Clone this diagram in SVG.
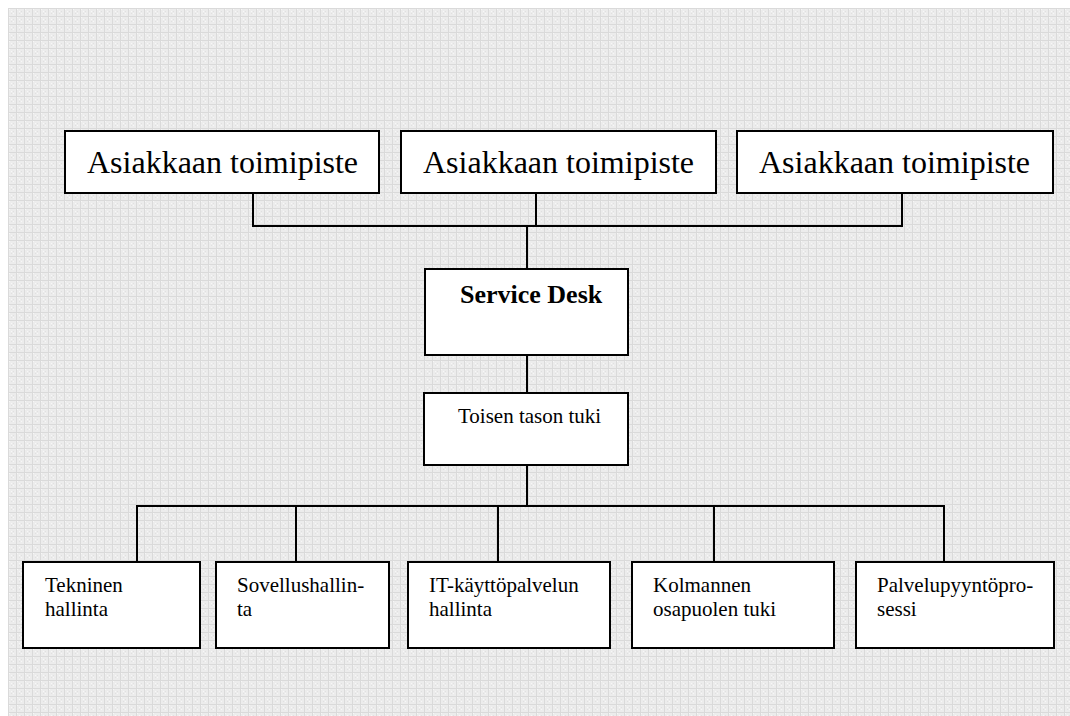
<svg xmlns="http://www.w3.org/2000/svg" width="1070" height="716" viewBox="0 0 1070 716">
  <defs>
    <!-- light grey grid texture used as page background -->
    <pattern id="grid" x="8" y="8" width="8" height="8" patternUnits="userSpaceOnUse">
      <rect width="8" height="8" fill="#ececec"/>
      <rect x="1" y="1" width="1" height="1" fill="#f7f7f7"/>
      <rect x="3" y="3" width="1" height="1" fill="#f7f7f7"/>
      <rect x="5" y="5" width="1" height="1" fill="#f7f7f7"/>
      <rect x="3" y="5" width="1" height="1" fill="#e0e0e0"/>
      <rect x="5" y="3" width="1" height="1" fill="#e0e0e0"/>
      <rect x="0" y="0" width="8" height="1" fill="#dadada"/>
      <rect x="0" y="0" width="1" height="8" fill="#dadada"/>
    </pattern>
    <style>
      .box { fill: #ffffff; stroke: #000000; stroke-width: 2; }
      .wire { fill: none; stroke: #000000; stroke-width: 2; }
      .t { font-family: "Liberation Serif", "Times New Roman", serif; fill: #000000; }
      .big { font-size: 32px; }
      .mid { font-size: 21px; }
      .bold { font-size: 26px; font-weight: bold; }
    </style>
  </defs>

  <rect x="0" y="0" width="1070" height="716" fill="#ffffff"/>
  <rect x="8" y="8" width="1062" height="708" fill="url(#grid)"/>

  <!-- connectors -->
  <g id="connectors">
    <path class="wire" d="M253 193 V226 H902 V193"/>
    <path class="wire" d="M536 193 V226"/>
    <path class="wire" d="M527 226 V269"/>
    <path class="wire" d="M527 355 V393"/>
    <path class="wire" d="M527 465 V506"/>
    <path class="wire" d="M137 562 V506 H944 V562"/>
    <path class="wire" d="M296 506 V562"/>
    <path class="wire" d="M498 506 V562"/>
    <path class="wire" d="M714 506 V562"/>
  </g>

  <!-- customer offices -->
  <g id="office1">
    <rect class="box" x="65" y="131" width="314" height="62"/>
    <text class="t big" x="87" y="173">Asiakkaan toimipiste</text>
  </g>
  <g id="office2">
    <rect class="box" x="401" y="131" width="315" height="62"/>
    <text class="t big" x="423" y="173">Asiakkaan toimipiste</text>
  </g>
  <g id="office3">
    <rect class="box" x="737" y="131" width="316" height="62"/>
    <text class="t big" x="759" y="173">Asiakkaan toimipiste</text>
  </g>

  <!-- service desk -->
  <g id="service-desk">
    <rect class="box" x="425" y="269" width="203" height="86"/>
    <text class="t bold" x="460" y="303">Service Desk</text>
  </g>

  <!-- second level support -->
  <g id="second-level">
    <rect class="box" x="424" y="393" width="204" height="72"/>
    <text class="t mid" x="458" y="423">Toisen tason tuki</text>
  </g>

  <!-- support areas -->
  <g id="technical">
    <rect class="box" x="23" y="562" width="177" height="86"/>
    <text class="t mid" x="45" y="592">Tekninen</text>
    <text class="t mid" x="45" y="616">hallinta</text>
  </g>
  <g id="application">
    <rect class="box" x="216" y="562" width="173" height="86"/>
    <text class="t mid" x="237" y="592">Sovellushallin-</text>
    <text class="t mid" x="237" y="616">ta</text>
  </g>
  <g id="it-operations">
    <rect class="box" x="408" y="562" width="202" height="86"/>
    <text class="t mid" x="429" y="592">IT-käyttöpalvelun</text>
    <text class="t mid" x="429" y="616">hallinta</text>
  </g>
  <g id="third-party">
    <rect class="box" x="632" y="562" width="202" height="86"/>
    <text class="t mid" x="653" y="592">Kolmannen</text>
    <text class="t mid" x="653" y="616">osapuolen tuki</text>
  </g>
  <g id="service-request">
    <rect class="box" x="856" y="562" width="198" height="86"/>
    <text class="t mid" x="877" y="592">Palvelupyyntöpro-</text>
    <text class="t mid" x="877" y="616">sessi</text>
  </g>
</svg>
